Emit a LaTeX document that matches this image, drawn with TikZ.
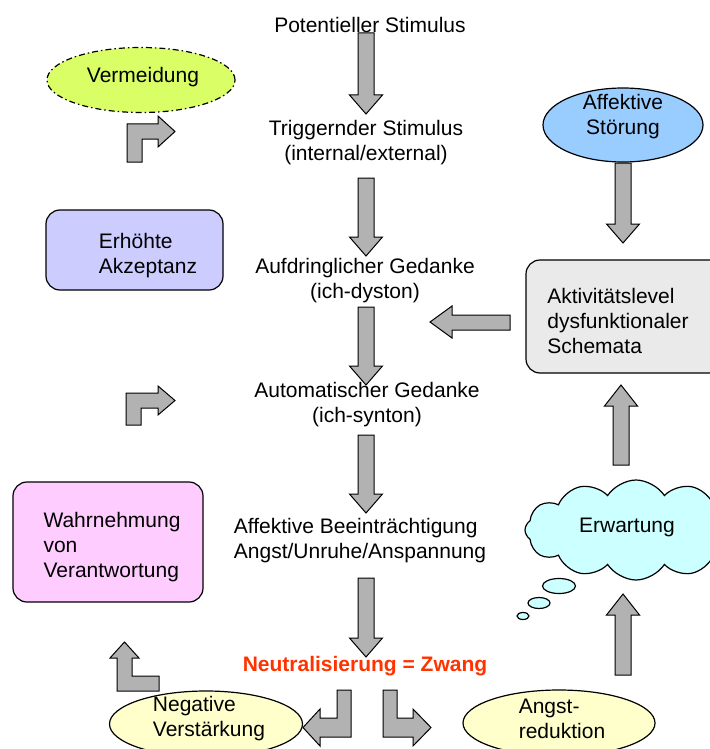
\documentclass[tikz,border=0pt]{standalone}
\usepackage{fontspec}
\setmainfont{Liberation Sans}
\usetikzlibrary{shapes.geometric, shapes.symbols}

\begin{document}
\begin{tikzpicture}[x=1pt, y=-1pt,
  txt/.style={font=\fontsize{21}{25}\selectfont, inner sep=0pt, align=center},
  ltxt/.style={txt, align=left},
  blockarr/.style={draw=black, fill=arrowgray, line width=1pt, line join=miter},
  roundbox/.style={draw, rounded corners=14pt, line width=1.2pt, inner sep=0pt},
  oval/.style={ellipse, draw, line width=1.2pt, inner sep=0pt}]
  % Define colors
  \definecolor{arrowgray}{RGB}{178,178,178}
  \definecolor{vermgreen}{RGB}{218,255,102}
  \definecolor{stoerblue}{RGB}{153,204,255}
  \definecolor{akzeptlila}{RGB}{204,204,255}
  \definecolor{aktivgray}{RGB}{234,234,234}
  \definecolor{wahrnpink}{RGB}{255,204,255}
  \definecolor{cloudcyan}{RGB}{204,255,255}
  \definecolor{ovalyellow}{RGB}{255,255,204}
  \definecolor{zwangred}{RGB}{255,51,0}

  \useasboundingbox (0,0) rectangle (709,749);

  % Main column
  \node[txt] (pot) at (370,25) {Potentieller Stimulus};
  \node[txt] (trig) at (366,143) {Triggernder Stimulus\\(internal/external)};
  \node[txt] (aufd) at (365,281) {Aufdringlicher Gedanke\\(ich-dyston)};
  \node[txt] (auto) at (367,405) {Automatischer Gedanke\\(ich-synton)};
  \node[ltxt] (affb) at (360,541) {Affektive Beeinträchtigung\\Angst/Unruhe/Anspannung};
  \node[txt, font=\fontsize{21}{25}\selectfont\bfseries, text=zwangred] (neutr) at (365,666) {Neutralisierung = Zwang};

  % Down arrows of the main column and the right side
  \foreach \x/\a/\b in {366/33/114, 366/178/256, 366/307/385, 366/435/513, 366/578/657, 623/163/243} {
    \filldraw[blockarr] (\x-8,\a) -- (\x+8,\a) -- (\x+8,\b-19) -- (\x+16.5,\b-19)
      -- (\x,\b) -- (\x-16.5,\b-19) -- (\x-8,\b-19) -- cycle;
  }

  % Up arrows on the right side
  \foreach \x/\a/\b in {621/465/385, 623/675/594} {
    \filldraw[blockarr] (\x-8,\a) -- (\x+8,\a) -- (\x+8,\b+21) -- (\x+16.5,\b+21)
      -- (\x,\b) -- (\x-16.5,\b+21) -- (\x-8,\b+21) -- cycle;
  }

  % Left column
  \node[oval, fill=vermgreen, dash pattern=on 6pt off 3pt on 1.5pt off 3pt,
    minimum width=188pt, minimum height=65pt] (verm) at (141,80) {};
  \node[txt] (vermtxt) at (143,77) {Vermeidung};
  \node[roundbox, fill=akzeptlila, minimum width=177pt, minimum height=80pt] (akzept) at (134.5,250) {};
  \node[ltxt] (akzepttxt) at (148,256) {Erhöhte\\Akzeptanz};
  \node[roundbox, fill=wahrnpink, minimum width=190pt, minimum height=120pt] (wahrn) at (108,542) {};
  \node[ltxt] (wahrntxt) at (112,547) {Wahrnehmung\\von\\Verantwortung};

  % Bent arrows on the left
  \filldraw[blockarr] (127,162) -- (127,124) -- (158,124) -- (158,116) -- (175,131.5)
    -- (158,147) -- (158,139) -- (142,139) -- (142,162) -- cycle;
  \filldraw[blockarr] (126,425) -- (126,393) -- (158,393) -- (158,386) -- (175,400.5)
    -- (158,415) -- (158,408) -- (141,408) -- (141,425) -- cycle;
  \filldraw[blockarr] (159,691) -- (117,691) -- (117,658) -- (110,658) -- (124.5,642)
    -- (139,658) -- (132,658) -- (132,676) -- (159,676) -- cycle;

  % Right column
  \node[oval, fill=stoerblue, minimum width=160pt, minimum height=74pt] (affst) at (623,125) {};
  \node[txt] (affsttxt) at (623,117) {Affektive\\Störung};
  \node[roundbox, fill=aktivgray, minimum width=200pt, minimum height=113pt] (aktiv) at (626,316.5) {};
  \node[ltxt] (aktivtxt) at (618,321) {Aktivitätslevel\\dysfunktionaler\\Schemata};
  \filldraw[blockarr] (510,315) -- (510,330) -- (452,330) -- (452,338) -- (430,322)
    -- (452,306) -- (452,315) -- cycle;

  % Thought cloud
  \node[cloud, draw, line width=1.2pt, fill=cloudcyan, cloud puffs=12, cloud puff arc=115,
    aspect=2.3, minimum width=222pt, minimum height=100pt, inner sep=0pt] (erw) at (636,530) {};
  \node[txt] (erwtxt) at (627,527) {Erwartung};
  \node[oval, fill=cloudcyan, minimum width=33pt, minimum height=15pt] (bub1) at (559,586) {};
  \node[oval, fill=cloudcyan, minimum width=22pt, minimum height=11pt] (bub2) at (539,603) {};
  \node[oval, fill=cloudcyan, minimum width=12pt, minimum height=7pt] (bub3) at (523,616) {};

  % Bottom row
  \node[oval, fill=ovalyellow, minimum width=193pt, minimum height=66pt] (negv) at (206,724) {};
  \node[ltxt] (negvtxt) at (209,719) {Negative\\Verstärkung};
  \node[oval, fill=ovalyellow, minimum width=192pt, minimum height=66pt] (angst) at (559,723) {};
  \node[ltxt] (angsttxt) at (562,719) {Angst-\\reduktion};

  % Split arrows below the compulsion
  \filldraw[blockarr] (351,690) -- (351,737) -- (320,737) -- (320,746) -- (303,727.5)
    -- (320,709) -- (320,718) -- (337,718) -- (337,690) -- cycle;
  \filldraw[blockarr] (383,690) -- (383,737) -- (413,737) -- (413,746) -- (431,727.5)
    -- (413,709) -- (413,718) -- (397,718) -- (397,690) -- cycle;
\end{tikzpicture}
\end{document}
